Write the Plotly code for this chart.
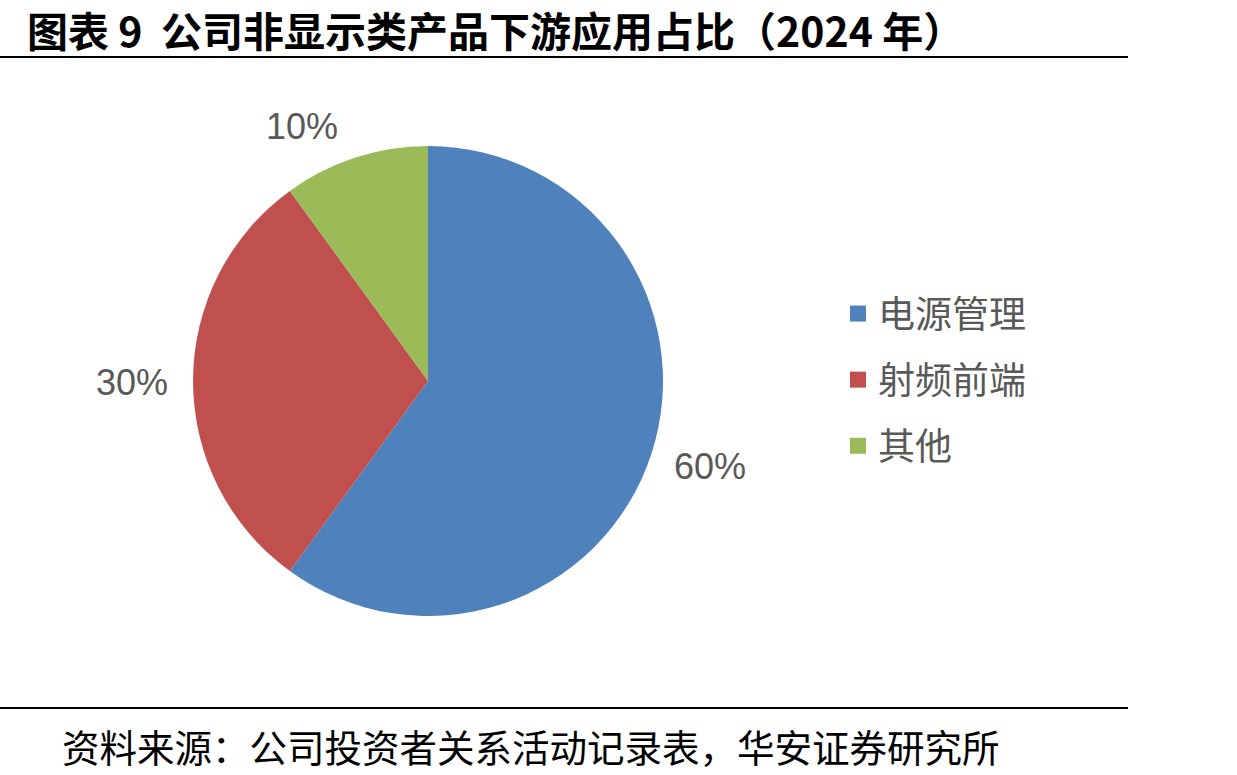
import plotly.graph_objects as go

# ---- data ----
categories = ["电源管理", "射频前端", "其他"]
shares = [60, 30, 10]
pct_labels = ["60%", "30%", "10%"]
colors = ["#4F81BD", "#C0504D", "#9BBB59"]

title_text = "图表 9&nbsp;&nbsp;公司非显示类产品下游应用占比（2024 年）"
source_text = "资料来源：公司投资者关系活动记录表，华安证券研究所"

W, H = 1237, 775
# pie geometry in pixels (layout)
CX, CY, R = 428, 381, 235
# percentage label positions in pixels (layout)
LABEL_XY = [(710, 466), (132, 383), (302, 127)]


def px(x):
    return x / W


def py(y):
    return 1 - y / H


fig = go.Figure()

fig.add_trace(go.Pie(
    labels=categories,
    values=shares,
    marker=dict(colors=colors, line=dict(width=0)),
    sort=False,
    direction="clockwise",
    rotation=0,
    textinfo="none",
    hoverinfo="label+percent",
    showlegend=False,
    domain=dict(x=[px(CX - R), px(CX + R)], y=[py(CY + R), py(CY - R)]),
))

# legend entries
for cat, col in zip(categories, colors):
    fig.add_trace(go.Scatter(
        x=[None], y=[None], mode="markers", name=cat, legendgroup=cat,
        marker=dict(symbol="square", size=16, color=col),
        showlegend=True,
    ))

annotations = []
for lab, (lx, ly) in zip(pct_labels, LABEL_XY):
    annotations.append(dict(
        x=px(lx), y=py(ly), xref="paper", yref="paper", text=lab,
        showarrow=False, xanchor="center", yanchor="middle",
        font=dict(family="Liberation Sans, Arial", size=36, color="#595959"),
    ))

annotations.append(dict(
    x=px(25), y=py(29), xref="paper", yref="paper", text="<b>" + title_text + "</b>",
    showarrow=False, xanchor="left", yanchor="middle",
    font=dict(family="Noto Sans CJK SC", size=41, color="#000000"),
))
annotations.append(dict(
    x=px(60), y=py(745), xref="paper", yref="paper", text=source_text,
    showarrow=False, xanchor="left", yanchor="middle",
    font=dict(family="Noto Sans CJK SC", size=37.5, color="#000000"),
))

shapes = [
    dict(type="line", xref="paper", yref="paper", x0=0, x1=px(1128),
         y0=py(57), y1=py(57), line=dict(color="#000000", width=2)),
    dict(type="line", xref="paper", yref="paper", x0=0, x1=px(1128),
         y0=py(708), y1=py(708), line=dict(color="#000000", width=2)),
]

fig.update_layout(
    width=W, height=H,
    margin=dict(l=0, r=0, t=0, b=0),
    paper_bgcolor="white", plot_bgcolor="white",
    xaxis=dict(visible=False), yaxis=dict(visible=False),
    annotations=annotations,
    shapes=shapes,
    legend=dict(
        x=px(838), y=py(283), xanchor="left", yanchor="top",
        font=dict(family="Noto Sans CJK SC", size=37, color="#595959"),
        tracegroupgap=15, bgcolor="rgba(0,0,0,0)",
    ),
)

fig.write_html("out.html")
